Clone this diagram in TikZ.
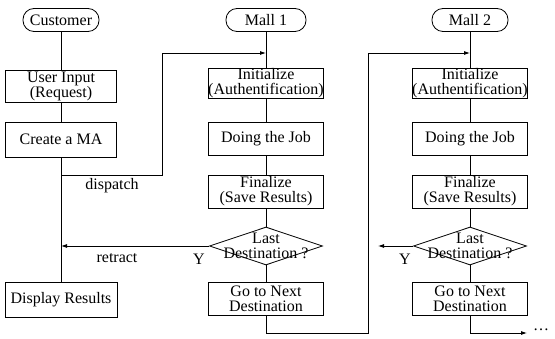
\documentclass[tikz,border=0pt]{standalone}
\usepackage{fontspec}
\setmainfont{Liberation Serif}
\usetikzlibrary{arrows.meta,shapes.geometric}
\begin{document}
\begin{tikzpicture}[x=1pt,y=-1pt,
  font=\fontsize{16}{15}\selectfont,
  line width=0.8pt,
  every node/.style={inner sep=0pt},
  box/.style={draw, rectangle, align=center, minimum width=#1, fill=white},
  box/.default=115,
  term/.style={draw, rectangle, rounded corners=11pt, minimum height=23, minimum width=#1, fill=white},
  dia/.style={draw, diamond, minimum width=113, minimum height=38, fill=white},
  lbl/.style={align=center},
  arr/.style={-{Latex[length=6pt,width=4pt]}}]
\useasboundingbox (0,0) rectangle (555,339);

% Customer column
\node[term=76] (cust) at (61,20) {Customer};
\node[box=111, minimum height=32] (ui) at (61,86) {User Input\\(Request)};
\node[box=111, minimum height=35] (cma) at (61,139.5) {Create a MA};
\node[box=112, minimum height=35] (disp) at (61,299.5) {Display Results};

% Mall 1 column
\node[term=80] (m1) at (266,20) {Mall 1};
\node[box, minimum height=30] (i1) at (266,83) {Initialize\\(Authentification)};
\node[box, minimum height=33] (j1) at (266,138.5) {Doing the Job};
\node[box, minimum height=33] (f1) at (266,191.5) {Finalize\\(Save Results)};
\node[dia] (d1) at (266,246) {};
\node[lbl] (d1t) at (d1) {Last\\Destination ?};
\node[box, minimum height=33] (g1) at (266,298.5) {Go to Next\\Destination};

% Mall 2 column
\node[term=76] (m2) at (470,20) {Mall 2};
\node[box, minimum height=30] (i2) at (470,83) {Initialize\\(Authentification)};
\node[box, minimum height=33] (j2) at (470,138.5) {Doing the Job};
\node[box, minimum height=33] (f2) at (470,191.5) {Finalize\\(Save Results)};
\node[dia] (d2) at (470,246) {};
\node[lbl] (d2t) at (d2) {Last\\Destination ?};
\node[box, minimum height=33] (g2) at (470,298.5) {Go to Next\\Destination};

% coordinates
\coordinate (ds) at (61,175);
\coordinate (dc1) at (162,175);
\coordinate (dc2) at (162,53);
\coordinate (a1) at (266,53);
\coordinate (b1) at (266,333);
\coordinate (b2) at (368,333);
\coordinate (b3) at (368,53);
\coordinate (a2) at (470,53);
\coordinate (r1) at (61,246);
\coordinate (r2) at (378,246);
\coordinate (c1) at (470,333);
\coordinate (c2) at (527,333);

% Customer connectors
\draw (cust) -- (ui);
\draw (ui) -- (cma);
\draw (cma) -- (disp);
\draw[arr] (ds) -- (dc1) -- (dc2) -- (a1);
\draw[arr] (d1.west) -- (r1);

% Mall 1 connectors
\draw (m1) -- (i1);
\draw (i1) -- (j1);
\draw (j1) -- (f1);
\draw (f1) -- (d1);
\draw (d1) -- (g1);
\draw[arr] (g1) -- (b1) -- (b2) -- (b3) -- (a2);

% Mall 2 connectors
\draw (m2) -- (i2);
\draw (i2) -- (j2);
\draw (j2) -- (f2);
\draw (f2) -- (d2);
\draw (d2) -- (g2);
\draw[arr] (d2.west) -- (r2);
\draw[arr] (g2) -- (c1) -- (c2);

% labels
\node[lbl] (ldisp) at (112,186) {dispatch};
\node[lbl] (lret) at (117,258) {retract};
\node[lbl] (ly1) at (199,259) {Y};
\node[lbl] (ly2) at (405,259) {Y};
\node[lbl] (ldots) at (541,330) {\dots};
\end{tikzpicture}
\end{document}
